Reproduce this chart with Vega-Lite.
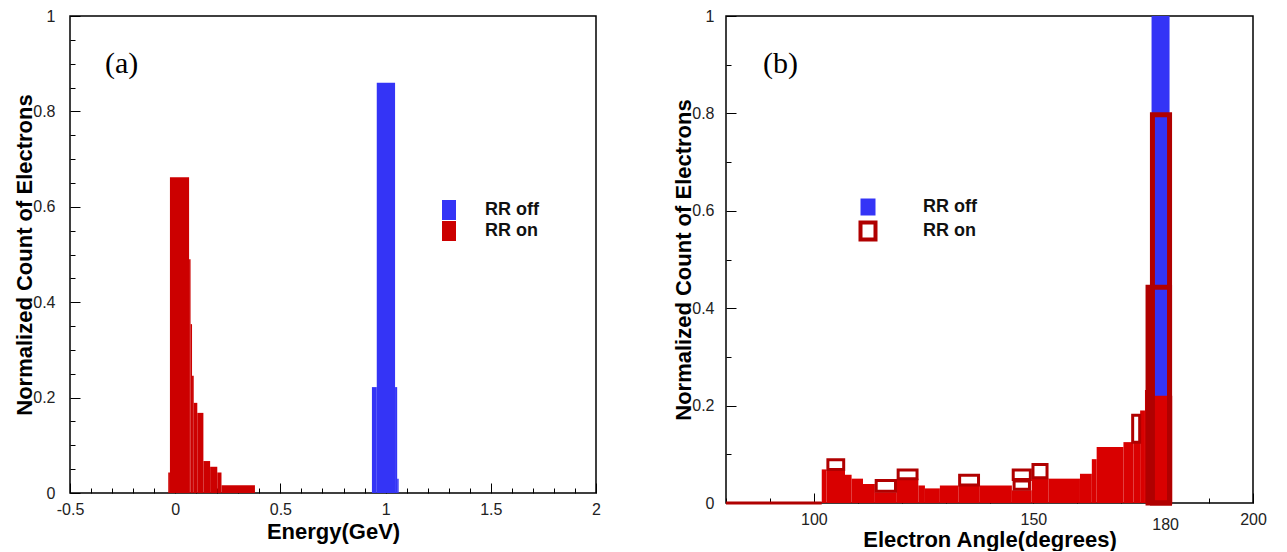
{
  "$schema": "https://vega.github.io/schema/vega-lite/v6.json",
  "padding": {"left": 13, "top": 7, "right": 0, "bottom": 0},
  "background": "white",
  "spacing": 130,
  "bounds": "flush",
  "resolve": {"scale": {"fill": "independent", "stroke": "independent", "color": "independent"}, "legend": {"fill": "independent", "stroke": "independent", "color": "independent"}},
  "config": {
    "view": {"stroke": "black", "strokeWidth": 1.5},
    "axis": {"grid": false, "domain": false, "tickColor": "black", "tickWidth": 1, "labelFont": "Liberation Sans", "labelFontSize": 16, "labelColor": "#222222", "titleFont": "Liberation Sans", "titleFontSize": 22, "titleFontWeight": "bold", "titleColor": "black", "labelOverlap": false, "labelFlush": false},
    "legend": {"labelFont": "Liberation Sans", "labelFontSize": 18, "labelFontWeight": "bold", "labelColor": "#111111"},
    "title": {"font": "Liberation Serif", "fontSize": 30, "fontWeight": "normal", "color": "black", "anchor": "start", "frame": "group", "baseline": "alphabetic"}
  },
  "datasets": {
    "energy": [
      {"series": "RR on", "x0": -0.033, "x1": -0.025, "y0": 0, "y1": 0.043},
      {"series": "RR on", "x0": -0.025, "x1": 0.066, "y0": 0, "y1": 0.662},
      {"series": "RR on", "x0": 0.066, "x1": 0.073, "y0": 0, "y1": 0.49},
      {"series": "RR on", "x0": 0.073, "x1": 0.08, "y0": 0, "y1": 0.354},
      {"series": "RR on", "x0": 0.08, "x1": 0.088, "y0": 0, "y1": 0.246},
      {"series": "RR on", "x0": 0.088, "x1": 0.105, "y0": 0, "y1": 0.189},
      {"series": "RR on", "x0": 0.105, "x1": 0.134, "y0": 0, "y1": 0.168},
      {"series": "RR on", "x0": 0.134, "x1": 0.166, "y0": 0, "y1": 0.067},
      {"series": "RR on", "x0": 0.166, "x1": 0.2, "y0": 0, "y1": 0.055},
      {"series": "RR on", "x0": 0.2, "x1": 0.22, "y0": 0, "y1": 0.043},
      {"series": "RR on", "x0": 0.22, "x1": 0.379, "y0": 0, "y1": 0.016},
      {"series": "RR off", "x0": 0.935, "x1": 0.958, "y0": 0, "y1": 0.222},
      {"series": "RR off", "x0": 0.958, "x1": 1.045, "y0": 0, "y1": 0.86},
      {"series": "RR off", "x0": 1.045, "x1": 1.055, "y0": 0, "y1": 0.222},
      {"series": "RR off", "x0": 1.055, "x1": 1.062, "y0": 0, "y1": 0.03}
    ],
    "angle_off": [
      {"series": "RR off", "x0": 176.9, "x1": 181.0, "y0": 0, "y1": 1}
    ],
    "angle_on_fill": [
      {"series": "RR on", "x0": 101.8, "x1": 102.9, "y0": 0, "y1": 0.069},
      {"series": "RR on", "x0": 102.9, "x1": 107.1, "y0": 0, "y1": 0.068},
      {"series": "RR on", "x0": 107.1, "x1": 108.6, "y0": 0, "y1": 0.058},
      {"series": "RR on", "x0": 108.6, "x1": 111.2, "y0": 0, "y1": 0.05},
      {"series": "RR on", "x0": 111.2, "x1": 113.9, "y0": 0, "y1": 0.039},
      {"series": "RR on", "x0": 113.9, "x1": 118.9, "y0": 0, "y1": 0.022},
      {"series": "RR on", "x0": 118.9, "x1": 123.8, "y0": 0, "y1": 0.05},
      {"series": "RR on", "x0": 123.8, "x1": 125.3, "y0": 0, "y1": 0.036},
      {"series": "RR on", "x0": 125.3, "x1": 128.7, "y0": 0, "y1": 0.03},
      {"series": "RR on", "x0": 128.7, "x1": 132.9, "y0": 0, "y1": 0.036},
      {"series": "RR on", "x0": 132.9, "x1": 137.8, "y0": 0, "y1": 0.035},
      {"series": "RR on", "x0": 137.8, "x1": 145.1, "y0": 0, "y1": 0.036},
      {"series": "RR on", "x0": 145.1, "x1": 149.6, "y0": 0, "y1": 0.026},
      {"series": "RR on", "x0": 149.6, "x1": 153.4, "y0": 0, "y1": 0.05},
      {"series": "RR on", "x0": 153.4, "x1": 160.6, "y0": 0, "y1": 0.05},
      {"series": "RR on", "x0": 160.6, "x1": 163.3, "y0": 0, "y1": 0.06},
      {"series": "RR on", "x0": 163.3, "x1": 164.4, "y0": 0, "y1": 0.09},
      {"series": "RR on", "x0": 164.4, "x1": 170.5, "y0": 0, "y1": 0.115},
      {"series": "RR on", "x0": 170.5, "x1": 172.8, "y0": 0, "y1": 0.125},
      {"series": "RR on", "x0": 172.8, "x1": 174.3, "y0": 0, "y1": 0.125},
      {"series": "RR on", "x0": 174.3, "x1": 175.4, "y0": 0, "y1": 0.19},
      {"series": "RR on", "x0": 175.4, "x1": 176.5, "y0": 0, "y1": 0.232},
      {"series": "RR on", "x0": 176.5, "x1": 181.6, "y0": 0, "y1": 0.22}
    ],
    "angle_on_boxes": [
      {"series": "RR on", "x0": 80, "x1": 101.8, "y0": 0, "y1": 0},
      {"series": "RR on", "x0": 103.2, "x1": 106.8, "y0": 0.069, "y1": 0.089},
      {"series": "RR on", "x0": 114.2, "x1": 118.6, "y0": 0.024, "y1": 0.046},
      {"series": "RR on", "x0": 119.2, "x1": 123.5, "y0": 0.05, "y1": 0.068},
      {"series": "RR on", "x0": 133.2, "x1": 137.5, "y0": 0.037, "y1": 0.057},
      {"series": "RR on", "x0": 145.4, "x1": 149.3, "y0": 0.048, "y1": 0.068},
      {"series": "RR on", "x0": 145.6, "x1": 149.1, "y0": 0.028, "y1": 0.045},
      {"series": "RR on", "x0": 149.9, "x1": 153.1, "y0": 0.052, "y1": 0.079},
      {"series": "RR on", "x0": 172.6, "x1": 174.2, "y0": 0.125, "y1": 0.18}
    ],
    "angle_on_peak": [
      {"series": "RR on", "x0": 177.1, "x1": 181.0, "y0": 0, "y1": 0.797},
      {"series": "RR on", "x0": 176.1, "x1": 181.0, "y0": 0, "y1": 0.443}
    ]
  },
  "hconcat": [
    {
      "width": 526,
      "height": 477,
      "title": {"text": "(a)", "offset": -71, "dx": 35},
      "data": {"name": "energy"},
      "mark": {"type": "rect"},
      "encoding": {
        "x": {"field": "x0", "type": "quantitative", "title": "Energy(GeV)",
          "scale": {"domain": [-0.5, 2], "nice": false, "zero": false},
          "axis": {
            "values": [-0.5, -0.4, -0.3, -0.2, -0.1, 0, 0.1, 0.2, 0.3, 0.4, 0.5, 0.6, 0.7, 0.8, 0.9, 1, 1.1, 1.2, 1.3, 1.4, 1.5, 1.6, 1.7, 1.8, 1.9, 2],
            "labelExpr": "indexof([-0.5, 0, 0.5, 1, 1.5, 2], datum.value) >= 0 ? '' + datum.value : ''",
            "tickSize": {"condition": {"test": "indexof([-0.5, 0, 0.5, 1, 1.5, 2], datum.value) >= 0", "value": -10}, "value": -5},
            "labelOverlap": false, "labelFlush": false,
            "labelPadding": 18, "titlePadding": -1
          }
        },
        "x2": {"field": "x1"},
        "y": {"field": "y1", "type": "quantitative", "title": "Normalized Count of Electrons",
          "scale": {"domain": [0, 1], "nice": false},
          "axis": {
            "values": [0, 0.05, 0.1, 0.15, 0.2, 0.25, 0.3, 0.35, 0.4, 0.45, 0.5, 0.55, 0.6, 0.65, 0.7, 0.75, 0.8, 0.85, 0.9, 0.95, 1],
            "labelExpr": "indexof([0, 0.2, 0.4, 0.6, 0.8, 1], datum.value) >= 0 ? '' + datum.value : ''",
            "tickSize": {"condition": {"test": "indexof([0, 0.2, 0.4, 0.6, 0.8, 1], datum.value) >= 0", "value": -10}, "value": -5},
            "labelOverlap": false, "labelFlush": false,
            "labelPadding": 25, "titlePadding": -4
          }
        },
        "y2": {"field": "y0"},
        "color": {"field": "series", "type": "nominal",
          "scale": {"domain": ["RR off", "RR on"], "range": ["#3434f6", "#cc0000"]},
          "legend": {"title": null, "orient": "none", "legendX": 369, "legendY": 184,
            "symbolType": "M-0.7,-1H0.7V1H-0.7Z", "symbolSize": 400, "symbolStrokeWidth": 0,
            "labelOffset": 26, "rowPadding": 1}
        }
      }
    },
    {
      "width": 527,
      "height": 487,
      "title": {"text": "(b)", "offset": -71, "dx": 37},
      "layer": [
        {
          "data": {"name": "angle_off"},
          "mark": {"type": "rect"},
          "encoding": {
            "x": {"field": "x0", "type": "quantitative", "title": "Electron Angle(degrees)",
              "scale": {"domain": [80, 200], "nice": false, "zero": false},
              "axis": {
                "values": [80, 90, 100, 110, 120, 130, 140, 150, 160, 170, 180, 190, 200],
                "labelExpr": "indexof([100, 150, 180, 200], datum.value) >= 0 ? '' + datum.value : ''",
                "tickSize": {"condition": {"test": "indexof([100, 150, 200], datum.value) >= 0", "value": -10}, "value": -5},
                "labelOverlap": false, "labelFlush": false,
                "labelPadding": 18, "titlePadding": -3
              }
            },
            "x2": {"field": "x1"},
            "y": {"field": "y1", "type": "quantitative", "title": "Normalized Count of Electrons",
              "scale": {"domain": [0, 1], "nice": false},
              "axis": {
                "values": [0, 0.05, 0.1, 0.15, 0.2, 0.25, 0.3, 0.35, 0.4, 0.45, 0.5, 0.55, 0.6, 0.65, 0.7, 0.75, 0.8, 0.85, 0.9, 0.95, 1],
                "labelExpr": "indexof([0, 0.2, 0.4, 0.6, 0.8, 1], datum.value) >= 0 ? '' + datum.value : ''",
                "tickSize": {"condition": {"test": "indexof([0, 0.2, 0.4, 0.6, 0.8, 1], datum.value) >= 0", "value": -10}, "value": -5},
                "labelOverlap": false, "labelFlush": false,
                "labelPadding": 22, "titlePadding": -4
              }
            },
            "y2": {"field": "y0"},
            "fill": {"field": "series", "type": "nominal",
              "scale": {"domain": ["RR off", "RR on"], "range": ["#3434f6", "transparent"]},
              "legend": {"title": null, "orient": "none", "legendX": 130, "legendY": 180,
                "symbolType": "M-0.75,-0.85H0.75V0.85H-0.75Z", "symbolSize": 400, "symbolStrokeWidth": 4,
                "labelOffset": 43, "rowPadding": 2, "clipHeight": 22}
            },
            "stroke": {"field": "series", "type": "nominal",
              "scale": {"domain": ["RR off", "RR on"], "range": ["transparent", "#b00000"]},
              "legend": {"title": null, "orient": "none", "legendX": 130, "legendY": 180,
                "symbolType": "M-0.75,-0.85H0.75V0.85H-0.75Z", "symbolSize": 400, "symbolStrokeWidth": 4,
                "labelOffset": 43, "rowPadding": 2, "clipHeight": 22}
            }
          }
        },
        {
          "data": {"name": "angle_on_fill"},
          "mark": {"type": "rect", "color": "#d90000"},
          "encoding": {
            "x": {"field": "x0", "type": "quantitative", "title": "Electron Angle(degrees)"},
            "x2": {"field": "x1"},
            "y": {"field": "y1", "type": "quantitative", "title": "Normalized Count of Electrons"},
            "y2": {"field": "y0"}
          }
        },
        {
          "data": {"name": "angle_on_boxes"},
          "mark": {"type": "rect", "strokeWidth": 3},
          "encoding": {
            "x": {"field": "x0", "type": "quantitative", "title": "Electron Angle(degrees)"},
            "x2": {"field": "x1"},
            "y": {"field": "y1", "type": "quantitative", "title": "Normalized Count of Electrons"},
            "y2": {"field": "y0"},
            "fill": {"field": "series", "type": "nominal"},
            "stroke": {"field": "series", "type": "nominal"}
          }
        },
        {
          "data": {"name": "angle_on_peak"},
          "mark": {"type": "rect", "strokeWidth": 5},
          "encoding": {
            "x": {"field": "x0", "type": "quantitative", "title": "Electron Angle(degrees)"},
            "x2": {"field": "x1"},
            "y": {"field": "y1", "type": "quantitative", "title": "Normalized Count of Electrons"},
            "y2": {"field": "y0"},
            "fill": {"field": "series", "type": "nominal"},
            "stroke": {"field": "series", "type": "nominal"}
          }
        }
      ]
    }
  ]
}
